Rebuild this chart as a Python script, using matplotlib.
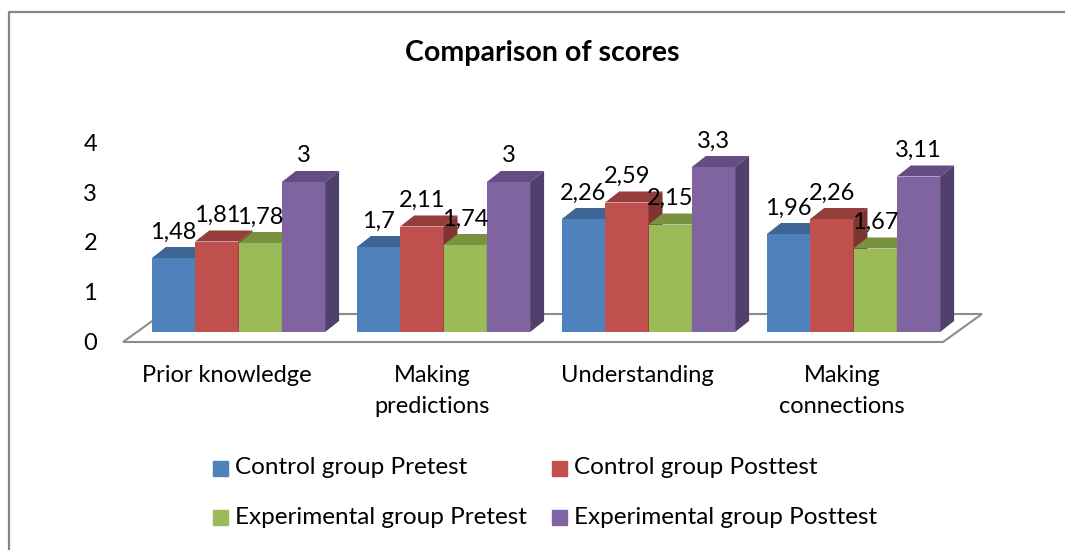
import numpy as np
import matplotlib
matplotlib.use("Agg")
import matplotlib.pyplot as plt
from matplotlib.patches import Rectangle, Polygon

plt.rcParams['font.family'] = ['Lato', 'DejaVu Sans']

# data
categories = ["Prior knowledge", "Making\npredictions", "Understanding", "Making\nconnections"]
series_names = ["Control group Pretest", "Control group Posttest",
                "Experimental group Pretest", "Experimental group Posttest"]
control_pre = [1.48, 1.70, 2.26, 1.96]
control_post = [1.81, 2.11, 2.59, 2.26]
exper_pre = [1.78, 1.74, 2.15, 1.67]
exper_post = [3.00, 3.00, 3.30, 3.11]
tick_values = [0, 1, 2, 3, 4]

series = [control_pre, control_post, exper_pre, exper_post]
front_cols = ["#4F81BD", "#C0504D", "#9BBB59", "#8064A2"]
top_cols = ["#3E6593", "#943D3B", "#79923F", "#634D82"]
side_cols = ["#34547C", "#7E3432", "#66793A", "#51406B"]

W, H = 1065, 550
fig = plt.figure(figsize=(W / 100, H / 100), dpi=100)

# background layer in pixel coords: border, title, legend
bg = fig.add_axes([0, 0, 1, 1], zorder=0)
bg.set_xlim(0, W)
bg.set_ylim(H, 0)
bg.axis("off")
bg.plot([9, 9, W], [H, 12, 12], color="#868686", lw=1.6, solid_capstyle="butt")
bg.text(542, 53, "Comparison of scores", ha="center", va="center",
        fontsize=20.5, fontweight="bold")

leg_pos = [(213, 468), (552, 468), (213, 517), (552, 517)]
for (lx, ly), name, c in zip(leg_pos, series_names, front_cols):
    bg.add_patch(Rectangle((lx, ly - 7.5), 15, 15, color=c))
    bg.text(lx + 22, ly, name, ha="left", va="center", fontsize=17.5)

# main plot area, pixel frame 100..1000 x 120..360
L, R, T, B = 100, 1000, 120, 360
x0_px, step_px = 238.5, 205.0   # group centre and spacing
y0_px, unit_px = 332.0, 50.0    # bar base and pixels per score unit
ax = fig.add_axes([L / W, (H - B) / H, (R - L) / W, (B - T) / H], zorder=1)
ax.set_facecolor("none")
ax.set_xlim((L - x0_px) / step_px, (R - x0_px) / step_px)
ax.set_ylim((y0_px - B) / unit_px, (y0_px - T) / unit_px)
for s in ax.spines.values():
    s.set_visible(False)

bw = 43.3 / step_px          # bar width
dx, dy = 14 / step_px, 11 / unit_px   # 3D depth of a bar
x = np.arange(len(categories))

# floor
fdx, fdy = 39 / step_px, 28 / unit_px
f_left, f_right, f_y = (123 - x0_px) / step_px, (943 - x0_px) / step_px, -0.2
ax.add_patch(Polygon([(f_left, f_y), (f_right, f_y), (f_right + fdx, f_y + fdy),
                      (f_left + fdx, f_y + fdy)], closed=True, facecolor="white",
                     edgecolor="#8C8C8C", lw=1.5, zorder=1))

for j, vals in enumerate(series):
    xc = x + (j - 1.5) * bw
    z = 10 + 3 * j
    ax.bar(xc, vals, width=bw, color=front_cols[j], zorder=z)
    for xi, v in zip(xc, vals):
        xl, xr = xi - bw / 2, xi + bw / 2
        ax.add_patch(Polygon([(xl, v), (xr, v), (xr + dx, v + dy), (xl + dx, v + dy)],
                             closed=True, facecolor=top_cols[j], lw=0, zorder=z + 1))
        ax.add_patch(Polygon([(xr, 0), (xr, v), (xr + dx, v + dy), (xr + dx, dy)],
                             closed=True, facecolor=side_cols[j], lw=0, zorder=z + 2))
        ax.text(xi, v + 0.39, f"{v:g}".replace(".", ","), ha="center",
                va="baseline", fontsize=17, zorder=40)

# value axis labels (shifted to the front edge of the floor)
tick_pos = [v * 0.995 - 0.19 for v in tick_values]
ax.set_yticks(tick_pos, [str(v) for v in tick_values])
ax.tick_params(axis="y", length=0, pad=2, labelsize=17)
ax.set_xticks([])

for xi, cat in zip(x, categories):
    ax.text(xi - 0.055, (y0_px - 365) / unit_px, cat, ha="center", va="top",
            fontsize=17, linespacing=1.6)

fig.savefig("out.png", dpi=100)
